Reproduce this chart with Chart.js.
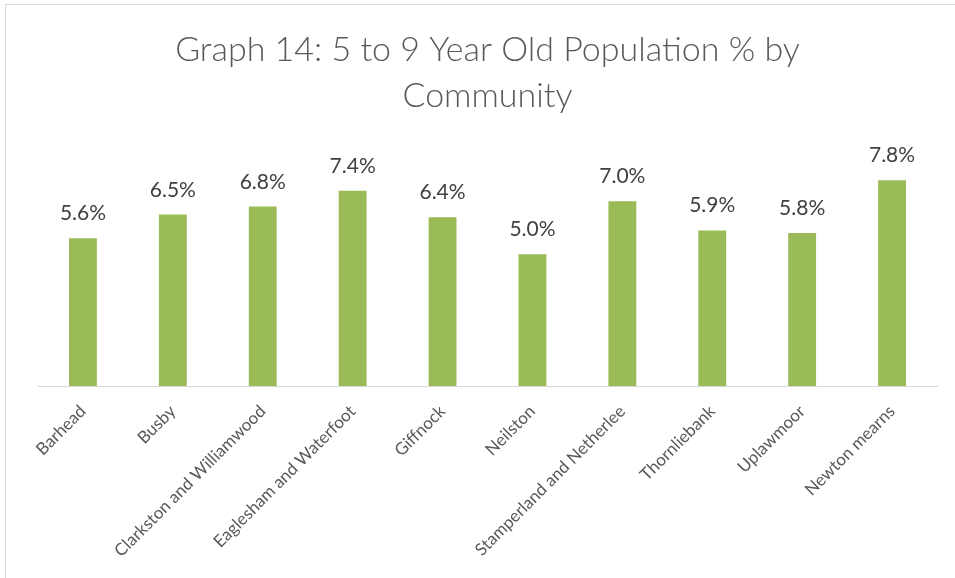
<!DOCTYPE html>
<html>
<head>
<meta charset="utf-8">
<script src="https://cdn.jsdelivr.net/npm/chart.js@4.4.1/dist/chart.umd.min.js"></script>
<style>
  html, body { margin: 0; padding: 0; background: #ffffff; overflow: hidden; }
  #wrap { position: relative; width: 955px; height: 578px; }
  #frame { position: absolute; left: 5px; top: 4px; width: 970px; height: 600px;
           border: 1px solid #d9d9d9; box-sizing: border-box; pointer-events: none; }
  canvas { position: absolute; left: 0; top: 0; }
</style>
</head>
<body>
<div id="wrap">
  <canvas id="chart" width="955" height="578"></canvas>
  <div id="frame"></div>
</div>
<script>
// Share of the population aged 5 to 9, by community
const communities = [
  "Barhead", "Busby", "Clarkston and Williamwood", "Eaglesham and Waterfoot",
  "Giffnock", "Neilston", "Stamperland and Netherlee", "Thornliebank",
  "Uplawmoor", "Newton mearns"
];
const pctAged5to9 = [5.6, 6.5, 6.8, 7.4, 6.4, 5.0, 7.0, 5.9, 5.8, 7.8];
const titleLines = ["Graph 14: 5 to 9 Year Old Population % by", "Community"];

const FONT = "Lato, 'Open Sans', sans-serif";

// Writes each bar's percentage just above it
const valueLabels = {
  id: "valueLabels",
  afterDatasetsDraw(chart) {
    const ctx = chart.ctx;
    const meta = chart.getDatasetMeta(0);
    ctx.save();
    ctx.font = "21px " + FONT;
    ctx.fillStyle = "#404040";
    ctx.textAlign = "center";
    ctx.textBaseline = "alphabetic";
    meta.data.forEach((bar, i) => {
      const v = chart.data.datasets[0].data[i];
      ctx.fillText(v.toFixed(1) + "%", bar.x, bar.y - 18);
    });
    ctx.restore();
  }
};

new Chart(document.getElementById("chart"), {
  type: "bar",
  data: {
    labels: communities,
    datasets: [{
      data: pctAged5to9,
      backgroundColor: "#9bbb59",
      borderWidth: 0,
      categoryPercentage: 1.0,
      barPercentage: 0.31
    }]
  },
  options: {
    responsive: false,
    animation: false,
    devicePixelRatio: 1,
    layout: { padding: { left: 38, right: 18, top: 27, bottom: 2 } },
    plugins: {
      legend: { display: false },
      tooltip: { enabled: false },
      title: {
        display: true,
        text: titleLines,
        color: "#595959",
        font: { family: FONT, size: 34, weight: 300, lineHeight: 1.36 },
        padding: { top: 0, bottom: 29 }
      }
    },
    scales: {
      x: {
        grid: { display: false, drawTicks: false },
        border: { display: true, color: "#d9d9d9", width: 1 },
        ticks: {
          color: "#595959",
          font: { family: FONT, size: 17 },
          minRotation: 45,
          maxRotation: 45,
          padding: 15,
          autoSkip: false
        }
      },
      y: {
        display: false,
        min: 0,
        max: 9
      }
    }
  },
  plugins: [valueLabels]
});
</script>
</body>
</html>
